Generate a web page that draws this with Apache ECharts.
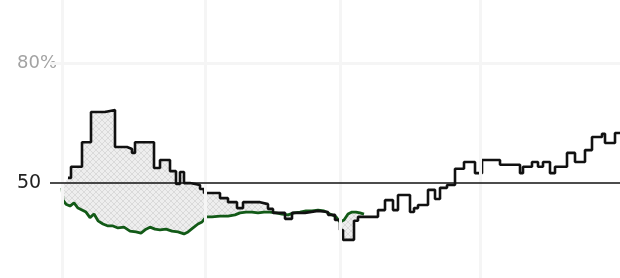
<!DOCTYPE html>
<html lang="en">
<head>
    <meta charset="UTF-8">
    <title>Chart</title>
    <style>
        *{
            margin:0;
            padding:0;
            box-sizing:border-box;
        }
        html, body{
            height:100%;
            width:100%;
            background:#fff;
        }
        #myChart{
            height:278px;
            width:620px;
        }
    </style>
</head>
<body>
<div id="myChart"></div>
<script src="https://cdn.jsdelivr.net/npm/echarts@6/dist/echarts.min.js"></script>
<script>
    // step line (black): x position, value in %
    var blackX = [6, 9, 20, 29, 43, 53, 65, 70, 73, 92, 98, 108, 114, 118, 122, 128, 138, 142, 158, 166,
        175, 181, 198, 206, 211, 223, 230, 243, 256, 266, 273, 278, 281, 292, 296, 316, 323, 331, 336, 348,
        352, 356, 366, 373, 378, 385, 393, 402, 413, 420, 438, 458, 461, 470, 476, 481, 488, 493, 505, 513,
        523, 530, 540, 543, 553, 558];
    var blackV = [51.2, 54.0, 60.2, 67.8, 68.3, 59.0, 58.5, 57.5, 60.2, 53.7, 55.7, 52.9, 49.7, 52.7, 49.9, 49.4, 48.4, 47.4, 46.1, 45.1,
        43.6, 45.1, 44.6, 43.4, 42.4, 40.9, 42.4, 42.9, 42.6, 41.9, 40.6, 38.1, 35.6, 40.4, 41.4, 43.1, 45.6, 43.1, 46.9, 42.6,
        43.6, 44.4, 48.2, 45.9, 48.7, 49.4, 53.5, 55.2, 52.4, 55.7, 54.5, 52.4, 54.0, 55.2, 54.0, 55.2, 52.4, 54.0, 57.5, 55.2,
        58.2, 61.5, 62.3, 60.0, 62.5, 62.5];

    // green line
    var greenX = [0, 1, 4, 8, 12, 16, 20, 24, 28, 32, 36, 41, 46, 51, 56, 62, 68, 74, 79, 84,
        88, 93, 98, 104, 110, 116, 122, 126, 131, 136, 140, 144, 150, 158, 166, 173, 178, 184, 190, 196,
        202, 208, 214, 220, 226, 232, 238, 244, 250, 256, 262, 268, 274, 278, 282, 286, 290, 294, 298, 302];
    var greenV = [48.7, 45.6, 44.6, 44.1, 44.9, 43.6, 43.1, 42.6, 41.2, 42.1, 40.4, 39.6, 39.1, 39.1, 38.6, 38.8, 37.8, 37.6, 37.3, 38.3,
        38.8, 38.3, 38.1, 38.3, 37.8, 37.6, 37.1, 37.6, 38.6, 39.6, 40.1, 41.4, 41.4, 41.6, 41.6, 41.9, 42.4, 42.6, 42.6, 42.4,
        42.6, 42.6, 42.4, 42.1, 41.9, 42.4, 42.6, 42.9, 42.9, 43.1, 42.9, 42.1, 41.4, 40.1, 40.6, 42.1, 42.6, 42.6, 42.4, 42.1];

    var yLabels = [50, 80];
    var gridXs = [0, 143, 278, 418];
    var refLine = 50;

    var blackData = blackX.map(function(x, i) { return [x, blackV[i]]; });
    var greenData = greenX.map(function(x, i) { return [x, greenV[i]]; });

    // crosshatch for the gap between the two lines
    var hatch = document.createElement('canvas');
    hatch.width = 6;
    hatch.height = 6;
    var ctx = hatch.getContext('2d');
    ctx.fillStyle = '#eeeeee';
    ctx.fillRect(0, 0, 6, 6);
    ctx.strokeStyle = '#dadada';
    ctx.lineWidth = 1;
    ctx.beginPath();
    ctx.moveTo(0, 0); ctx.lineTo(6, 6);
    ctx.moveTo(6, 0); ctx.lineTo(0, 6);
    ctx.stroke();

    function renderGap(params, api) {
        if (params.dataIndex !== 0) return;
        var end = greenX[greenX.length - 1];
        var pts = [];
        for (var i = 0; i < blackX.length; i++) {
            if (blackX[i] > end) break;
            var nx = i + 1 < blackX.length ? Math.min(blackX[i + 1], end) : end;
            pts.push(api.coord([blackX[i], blackV[i]]));
            pts.push(api.coord([nx, blackV[i]]));
        }
        for (var j = greenX.length - 1; j >= 0; j--) {
            pts.push(api.coord([greenX[j], greenV[j]]));
        }
        return {
            type:'polygon',
            shape:{ points:pts },
            style:{ fill:{ image:hatch, repeat:'repeat' }, stroke:null }
        };
    }

    var myChart = echarts.init(document.getElementById('myChart'));
    var option = {
        animation:false,
        grid:{ left:50, right:0, top:0, bottom:0 },
        xAxis:{
            type:'value',
            min:-12,
            max:558,
            show:false
        },
        yAxis:{
            type:'value',
            min:26,
            max:96,
            axisLine:{ show:false },
            axisTick:{ show:false },
            splitLine:{ show:false },
            axisLabel:{
                customValues:yLabels,
                align:'left',
                margin:33,
                fontFamily:'DejaVu Sans',
                formatter:function(v) {
                    return v === 80 ? '{g|80%}' : '{d|' + v + '}';
                },
                rich:{
                    g:{ color:'#a3a3a3', fontSize:18, fontFamily:'DejaVu Sans' },
                    d:{ color:'#222', fontSize:19, fontFamily:'DejaVu Sans', fontWeight:500 }
                }
            }
        },
        series:[
            {
                type:'custom',
                renderItem:renderGap,
                data:blackData,
                z:1,
                silent:true
            },
            {
                type:'line',
                data:greenData,
                showSymbol:false,
                z:3,
                lineStyle:{ color:'#125a17', width:2.8 },
                markLine:{
                    silent:true,
                    symbol:'none',
                    label:{ show:false },
                    lineStyle:{ color:'#f5f5f5', width:3, type:'solid' },
                    data:gridXs.map(function(x) { return { xAxis:x }; }).concat([{ yAxis:80 }])
                }
            },
            {
                type:'line',
                data:blackData,
                step:'end',
                showSymbol:false,
                z:4,
                lineStyle:{ color:'#111', width:2.6 },
                markLine:{
                    silent:true,
                    symbol:'none',
                    label:{ show:false },
                    lineStyle:{ color:'#111', width:1.5, type:'solid' },
                    data:[{ yAxis:refLine }]
                }
            }
        ]
    };
    myChart.setOption(option);
</script>
</body>
</html>
